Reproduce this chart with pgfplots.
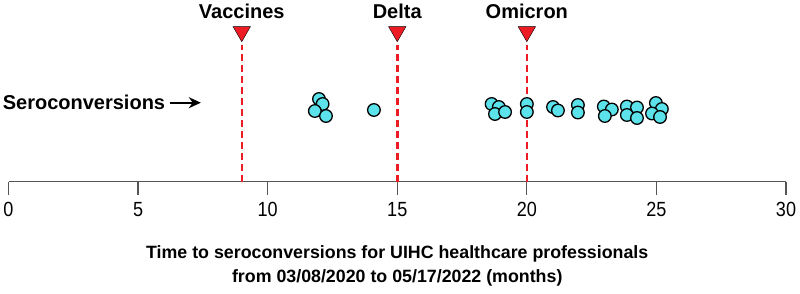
\documentclass[border=0pt]{standalone}
\usepackage{pgfplots}
\pgfplotsset{compat=1.18}
\usepackage{fontspec}
\setmainfont{Liberation Sans}
\newfontfamily\tickfont[FakeStretch=0.88]{Liberation Sans}
\usetikzlibrary{arrows.meta}
\definecolor{vred}{RGB}{237,28,36}
\definecolor{pcyan}{RGB}{92,226,234}
\definecolor{axgray}{RGB}{85,85,85}
\pgfplotstableread{
x y
11.98 82.7
12.12 77.7
11.82 70.7
12.25 65.7
14.10 71.7
18.64 77.7
18.92 74.7
18.77 67.7
19.16 69.7
20.00 77.7
20.00 69.7
21.01 74.7
21.20 71.2
21.97 76.7
21.97 69.2
22.97 75.2
23.28 72.2
23.01 65.7
23.86 75.2
24.25 74.2
23.86 66.7
24.25 63.7
24.98 78.7
25.21 72.7
24.83 68.2
25.14 64.7
}\seros
\pgfplotstableread{
x y
9 150
15 150
20 150
}\events
\begin{document}
\begin{tikzpicture}
\begin{axis}[
  at={(0pt,0pt)}, anchor=origin,
  scale only axis,
  width=777.5pt, height=181.7pt,
  xmin=0, xmax=30, ymin=0, ymax=181.7,
  clip=false,
  axis y line=none,
  axis x line*=bottom,
  axis line style={axgray, line width=1.2pt, -},
  xtick={0,5,...,30},
  tick align=outside,
  major tick length=13pt,
  xtick style={axgray, line width=1.2pt},
  ticklabel style={font=\tickfont\fontsize{20.5}{22}\selectfont},
  /pgf/number format/assume math mode=true,
  xticklabel style={yshift=-4pt},
]
\addplot[vred, line width=2.5pt, dash pattern=on 7pt off 4pt] coordinates {(9,0) (9,137)};
\addplot[vred, line width=2.5pt, dash pattern=on 7pt off 4pt] coordinates {(15,0) (15,137)};
\addplot[vred, line width=2.5pt, dash pattern=on 7pt off 4pt] coordinates {(20,0) (20,137)};
\addplot[only marks, mark=triangle*, mark size=10pt, mark options={rotate=180, fill=vred, draw=none}] table[x=x,y=y] {\events};
\addplot[only marks, mark=*, mark size=6.3pt, mark options={fill=pcyan, draw=black, line width=1.3pt}] table[x=x,y=y] {\seros};
\node[font=\bfseries\fontsize{20}{22}\selectfont] at (axis cs:9,170.5) {Vaccines};
\node[font=\bfseries\fontsize{20}{22}\selectfont] at (axis cs:15,170.5) {Delta};
\node[font=\bfseries\fontsize{20}{22}\selectfont] at (axis cs:20,170.5) {Omicron};
\node[font=\bfseries\fontsize{20}{22}\selectfont, anchor=east, inner sep=0pt] at (axis cs:6.05,79) {Seroconversions};
\draw[-{Stealth[length=12pt,width=11pt]}, line width=2pt] (axis cs:6.25,79) -- (axis cs:7.42,79);
\node[font=\bfseries\fontsize{17.8}{23.5}\selectfont, align=center] at (axis cs:15,-84) {Time to seroconversions for UIHC healthcare professionals\\from 03/08/2020 to 05/17/2022 (months)};
\end{axis}
\pgfresetboundingbox
\path[use as bounding box] (-8.5pt,-112.3pt) rectangle (791.5pt,181.7pt);
\end{tikzpicture}
\end{document}
